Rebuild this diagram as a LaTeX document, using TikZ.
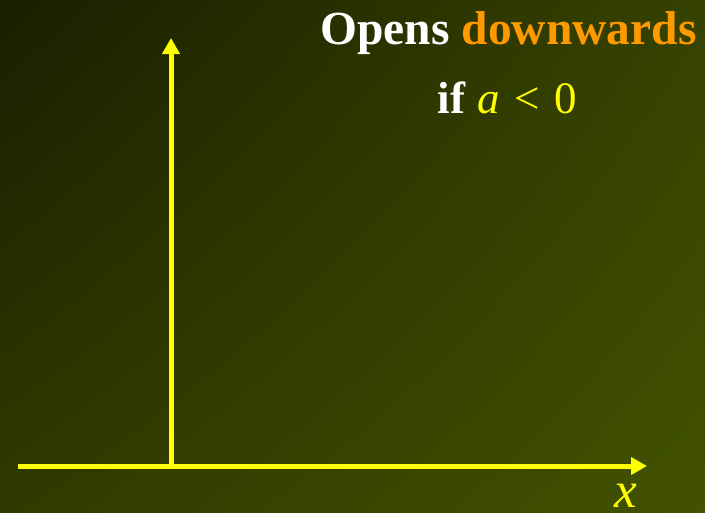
\documentclass[tikz,border=0pt]{standalone}
\usepackage{fontspec}
\setmainfont{Liberation Serif}
\usetikzlibrary{arrows.meta,shadings}
\definecolor{bgTL}{RGB}{26,30,0}
\definecolor{bgTR}{RGB}{54,66,0}
\definecolor{bgBL}{RGB}{48,58,0}
\definecolor{bgBR}{RGB}{66,82,0}
\definecolor{axisyellow}{RGB}{255,255,0}
\definecolor{titleorange}{RGB}{255,153,0}
\begin{document}
\begin{tikzpicture}[x=1pt,y=-1pt,
  axisline/.style={draw=axisyellow, line width=5pt, -{Triangle[length=16pt,width=17pt]}},
  bigtext/.style={font=\fontsize{47.5}{52}\selectfont, anchor=base, inner sep=0pt}]
\useasboundingbox (0,0) rectangle (705,512);
\shade[upper left=bgTL, upper right=bgTR, lower left=bgBL, lower right=bgBR] (0,0) rectangle (705,512);
\coordinate (origin) at (171,466);
\coordinate (xstart) at (18,466);
\coordinate (xend) at (647,466);
\coordinate (yend) at (171,38);
\draw[axisline] (xstart) -- (xend);
\draw[axisline] (origin) -- (yend);
\node[bigtext, text=white] (title) at (508.5,44.5) {\textbf{Opens \textcolor{titleorange}{downwards}}};
\node[bigtext, text=white, font=\fontsize{45}{50}\selectfont] (cond) at (507.5,113) {\textbf{if} \textcolor{axisyellow}{\textit{a}\hspace{0.08em} < \hspace{0.08em}0}};
\node[bigtext, text=axisyellow, font=\fontsize{51}{56}\selectfont\itshape] (xlabel) at (626,507.5) {x};
\end{tikzpicture}
\end{document}
